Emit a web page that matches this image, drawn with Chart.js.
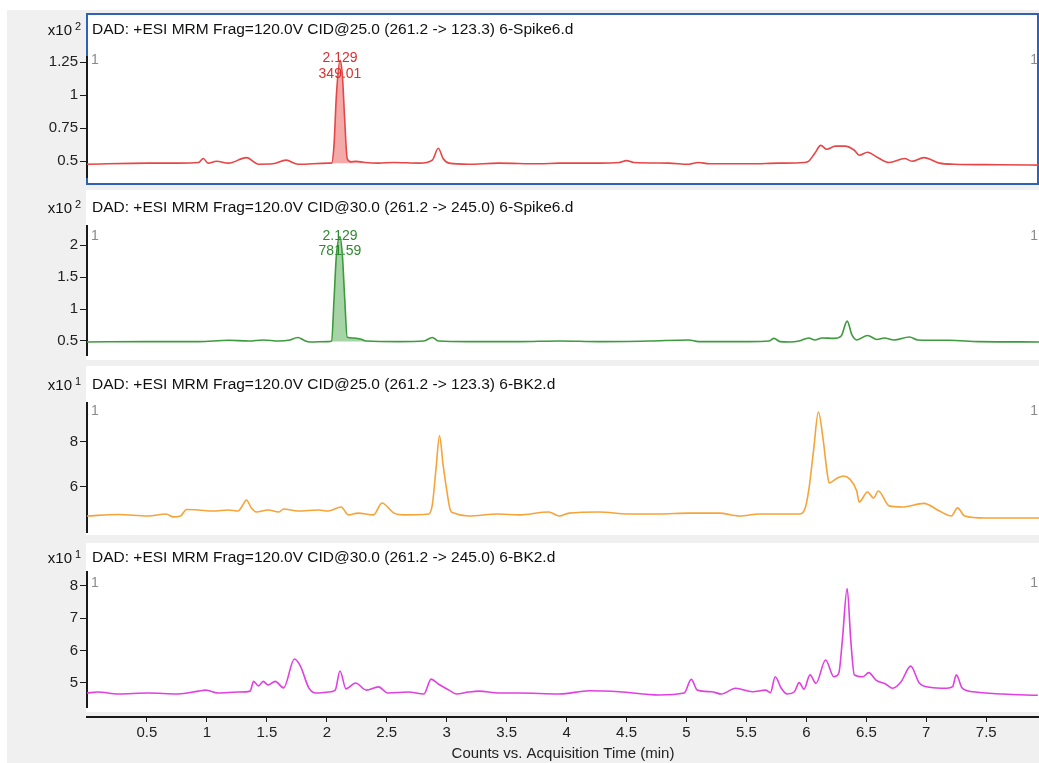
<!DOCTYPE html>
<html>
<head>
<meta charset="utf-8">
<title>MRM chromatograms</title>
<script src="https://cdn.jsdelivr.net/npm/chart.js@4.4.1/dist/chart.umd.min.js"></script>
<style>
  body { margin: 0; background: #fff; }
  #wrap { position: relative; width: 1039px; height: 763px; overflow: hidden; }
  #bg { position: absolute; left: 7px; top: 10px; right: 0; bottom: 0; background: #f0f0f0; }
  canvas { position: absolute; left: 0; }
</style>
</head>
<body>
<div id="wrap">
  <div id="bg"></div>
  <canvas id="p1" width="1039" height="185"></canvas>
  <canvas id="p2" width="1039" height="180"></canvas>
  <canvas id="p3" width="1039" height="178"></canvas>
  <canvas id="p4" width="1039" height="175"></canvas>
  <canvas id="axis" width="1039" height="50"></canvas>
</div>
<script>
// acquisition time (min) and counts for each trace
const redTime = [0, 0.51, 0.76, 0.93, 0.97, 1.01, 1.08, 1.18, 1.33, 1.43, 1.55, 1.66, 1.76, 2.01, 2.04, 2.06, 2.08, 2.11, 2.13, 2.15, 2.17, 2.20, 2.24, 2.28, 2.32, 2.43, 2.56, 2.77, 2.88, 2.93, 2.97, 3.02, 3.18, 3.43, 3.77, 3.94, 4.27, 4.44, 4.50, 4.56, 4.85, 5.02, 5.10, 5.19, 5.52, 5.77, 5.98, 6.02, 6.07, 6.12, 6.17, 6.24, 6.32, 6.40, 6.44, 6.51, 6.59, 6.69, 6.82, 6.88, 6.98, 7.11, 7.23, 7.61, 7.94];
const redCounts = [0.477, 0.485, 0.485, 0.49, 0.52, 0.485, 0.50, 0.485, 0.527, 0.477, 0.48, 0.508, 0.477, 0.485, 0.485, 0.62, 1.0, 1.265, 1.15, 0.8, 0.52, 0.495, 0.50, 0.495, 0.49, 0.485, 0.49, 0.485, 0.508, 0.598, 0.52, 0.485, 0.477, 0.485, 0.48, 0.485, 0.485, 0.49, 0.504, 0.49, 0.485, 0.477, 0.49, 0.48, 0.48, 0.485, 0.49, 0.50, 0.56, 0.62, 0.59, 0.614, 0.614, 0.583, 0.545, 0.568, 0.53, 0.49, 0.52, 0.50, 0.527, 0.485, 0.477, 0.473, 0.47];

const greenTime = [0, 0.51, 0.93, 1.18, 1.35, 1.47, 1.60, 1.68, 1.76, 1.81, 1.86, 2.01, 2.04, 2.06, 2.08, 2.11, 2.13, 2.15, 2.17, 2.22, 2.28, 2.33, 2.60, 2.81, 2.88, 2.93, 3.18, 3.60, 3.94, 4.27, 4.69, 5.02, 5.10, 5.52, 5.69, 5.73, 5.78, 5.86, 5.94, 6.02, 6.07, 6.13, 6.23, 6.29, 6.34, 6.38, 6.42, 6.51, 6.59, 6.65, 6.73, 6.86, 6.93, 7.19, 7.44, 7.94];
const greenCounts = [0.484, 0.49, 0.49, 0.51, 0.50, 0.516, 0.50, 0.51, 0.555, 0.51, 0.484, 0.49, 0.50, 1.14, 1.84, 2.13, 1.84, 1.14, 0.56, 0.547, 0.53, 0.50, 0.49, 0.50, 0.555, 0.50, 0.49, 0.49, 0.50, 0.49, 0.50, 0.516, 0.49, 0.49, 0.50, 0.54, 0.49, 0.484, 0.50, 0.547, 0.516, 0.547, 0.54, 0.578, 0.81, 0.594, 0.516, 0.586, 0.523, 0.547, 0.516, 0.563, 0.516, 0.51, 0.49, 0.484];

const orangeTime = [0, 0.26, 0.51, 0.66, 0.72, 0.78, 0.83, 0.93, 1.05, 1.18, 1.26, 1.29, 1.33, 1.37, 1.41, 1.51, 1.60, 1.64, 1.76, 1.93, 2.01, 2.12, 2.18, 2.26, 2.39, 2.46, 2.56, 2.64, 2.85, 2.88, 2.91, 2.94, 2.97, 3.00, 3.03, 3.06, 3.18, 3.43, 3.60, 3.85, 3.94, 4.02, 4.27, 4.52, 4.77, 5.02, 5.27, 5.44, 5.61, 5.94, 5.99, 6.02, 6.06, 6.10, 6.14, 6.17, 6.19, 6.26, 6.31, 6.36, 6.42, 6.44, 6.51, 6.56, 6.60, 6.69, 6.80, 6.98, 7.11, 7.21, 7.26, 7.32, 7.49, 7.94];
const orangeCounts = [4.71, 4.78, 4.71, 4.80, 4.67, 4.71, 5.00, 4.98, 4.93, 4.98, 4.93, 5.11, 5.42, 5.07, 4.89, 4.98, 4.89, 5.02, 4.93, 4.98, 4.93, 5.11, 4.76, 4.84, 4.76, 5.29, 4.84, 4.76, 4.80, 5.20, 6.76, 8.27, 6.98, 5.87, 4.98, 4.84, 4.71, 4.80, 4.76, 4.89, 4.71, 4.84, 4.89, 4.80, 4.80, 4.84, 4.84, 4.71, 4.80, 4.80, 5.07, 5.87, 7.64, 9.33, 8.09, 6.76, 6.18, 6.40, 6.49, 6.36, 5.82, 5.33, 5.78, 5.51, 5.82, 5.16, 5.11, 5.27, 4.93, 4.71, 5.07, 4.71, 4.62, 4.62];

const magentaTime = [0, 0.09, 0.26, 0.51, 0.76, 0.93, 0.99, 1.09, 1.26, 1.36, 1.39, 1.43, 1.47, 1.51, 1.57, 1.64, 1.73, 1.78, 1.85, 1.91, 2.01, 2.07, 2.11, 2.16, 2.24, 2.33, 2.43, 2.51, 2.68, 2.81, 2.87, 2.93, 3.02, 3.08, 3.18, 3.27, 3.43, 3.60, 3.94, 4.19, 4.44, 4.77, 4.98, 5.04, 5.09, 5.21, 5.29, 5.41, 5.55, 5.66, 5.70, 5.74, 5.79, 5.84, 5.90, 5.94, 5.98, 6.03, 6.08, 6.16, 6.23, 6.27, 6.30, 6.34, 6.37, 6.40, 6.47, 6.52, 6.58, 6.66, 6.72, 6.79, 6.87, 6.94, 7.03, 7.17, 7.22, 7.25, 7.30, 7.39, 7.64, 7.93];
const magentaCounts = [4.69, 4.72, 4.66, 4.69, 4.66, 4.75, 4.78, 4.69, 4.72, 4.75, 5.05, 4.91, 5.05, 4.94, 5.05, 4.85, 5.74, 5.52, 4.85, 4.69, 4.72, 4.78, 5.37, 4.82, 5.00, 4.78, 4.88, 4.69, 4.72, 4.66, 5.12, 4.97, 4.78, 4.66, 4.72, 4.75, 4.69, 4.69, 4.66, 4.76, 4.73, 4.63, 4.69, 5.11, 4.78, 4.73, 4.66, 4.84, 4.73, 4.78, 4.70, 5.19, 4.84, 4.66, 4.73, 5.01, 4.81, 5.25, 4.99, 5.71, 5.19, 5.30, 6.32, 7.91, 6.32, 5.25, 5.19, 5.32, 5.09, 4.97, 4.84, 5.04, 5.52, 5.01, 4.87, 4.84, 4.89, 5.25, 4.84, 4.73, 4.66, 4.62];

const traceTitles = [
  "DAD: +ESI MRM Frag=120.0V CID@25.0 (261.2 -> 123.3) 6-Spike6.d",
  "DAD: +ESI MRM Frag=120.0V CID@30.0 (261.2 -> 245.0) 6-Spike6.d",
  "DAD: +ESI MRM Frag=120.0V CID@25.0 (261.2 -> 123.3) 6-BK2.d",
  "DAD: +ESI MRM Frag=120.0V CID@30.0 (261.2 -> 245.0) 6-BK2.d"
];
const exponents = ["2", "2", "1", "1"];
const redTicks = [0.5, 0.75, 1, 1.25];
const greenTicks = [0.5, 1, 1.5, 2];
const orangeTicks = [6, 8];
const magentaTicks = [5, 6, 7, 8];
const timeTicks = [0.5, 1, 1.5, 2, 2.5, 3, 3.5, 4, 4.5, 5, 5.5, 6, 6.5, 7, 7.5];
const redPeak = { time: 2.11, start: 2.04, end: 2.32, base: 0.485, labels: ["2.129", "349.01"] };
const greenPeak = { time: 2.11, start: 2.04, end: 2.33, base: 0.49, labels: ["2.129", "781.59"] };

const TIME_MAX = 7.94;
const FONT = '"Liberation Sans", Arial, sans-serif';
const INK = "#1a1a1a";

function zip(xs, ys) {
  return xs.map((x, i) => ({ x: x, y: ys[i] }));
}

function makePanel(cfg) {
  const canvas = document.getElementById(cfg.id);
  canvas.style.top = cfg.top + "px";
  const h = canvas.height;

  const deco = {
    id: "deco",
    beforeDraw(chart) {
      const ctx = chart.ctx;
      ctx.save();
      ctx.fillStyle = "#fff";
      ctx.fillRect(86, cfg.white[0] - cfg.top, 1039 - 86, cfg.white[1] - cfg.white[0]);
      if (cfg.selected) {
        ctx.strokeStyle = "#2f62b4";
        ctx.lineWidth = 2;
        ctx.strokeRect(87, cfg.white[0] - cfg.top + 1, 1039 - 88, cfg.white[1] - cfg.white[0] - 2);
      }
      ctx.restore();
    },
    afterDraw(chart) {
      const ctx = chart.ctx;
      const ty = cfg.titleY - cfg.top;
      ctx.save();
      ctx.textBaseline = "middle";
      ctx.fillStyle = "#111";
      ctx.font = "15.5px " + FONT;
      ctx.textAlign = "left";
      ctx.fillText(cfg.title, 92, ty);
      ctx.font = "15px " + FONT;
      ctx.textAlign = "right";
      ctx.fillText("x10", 72, ty + 1);
      ctx.font = "11px " + FONT;
      ctx.textAlign = "left";
      ctx.fillText(cfg.exp, 75, ty - 3);

      ctx.fillStyle = "#8a8a8a";
      ctx.font = "14px " + FONT;
      ctx.fillText("1", 91, cfg.oneY - cfg.top);
      ctx.textAlign = "right";
      ctx.fillText("1", 1038, cfg.oneY - cfg.top);

      if (cfg.peak) {
        const px = chart.scales.x.getPixelForValue(cfg.peak.time);
        ctx.fillStyle = cfg.labelColor;
        ctx.textAlign = "center";
        ctx.font = "14px " + FONT;
        cfg.peak.labels.forEach((t, i) => {
          ctx.fillText(t, px, cfg.peakY[i] - cfg.top);
        });
      }
      ctx.restore();
    }
  };

  const points = zip(cfg.time, cfg.counts);
  const datasets = [{
    data: points,
    borderColor: cfg.color,
    borderWidth: 1.6,
    pointRadius: 0,
    cubicInterpolationMode: "monotone",
    fill: false,
    order: 0
  }];
  if (cfg.peak) {
    datasets.push({
      data: points.filter(p => p.x >= cfg.peak.start && p.x <= cfg.peak.end),
      borderWidth: 0,
      borderColor: "rgba(0,0,0,0)",
      backgroundColor: cfg.fillColor,
      pointRadius: 0,
      cubicInterpolationMode: "monotone",
      fill: { value: cfg.peak.base },
      order: 1
    });
  }

  return new Chart(canvas, {
    type: "line",
    data: { datasets: datasets },
    options: {
      responsive: false,
      animation: false,
      events: [],
      layout: { padding: { top: cfg.axis[0] - cfg.top, bottom: cfg.top + h - cfg.axis[1], left: 0, right: 0 } },
      scales: {
        x: { type: "linear", min: 0, max: TIME_MAX, display: false },
        y: {
          min: cfg.min,
          max: cfg.max,
          afterBuildTicks: s => { s.ticks = cfg.ticks.map(v => ({ value: v })); },
          afterFit: s => { s.width = 87; s.paddingTop = 0; s.paddingBottom = 0; },
          border: { display: true, color: INK, width: 2 },
          grid: { drawOnChartArea: false, drawTicks: true, tickLength: 7, color: INK },
          ticks: { color: "#222", padding: 2, font: { family: FONT, size: 15 }, callback: v => String(v) }
        }
      },
      plugins: { legend: { display: false }, tooltip: { enabled: false } }
    },
    plugins: [deco]
  });
}

makePanel({
  id: "p1", top: 10, white: [13, 185], axis: [57, 177], titleY: 30, oneY: 60,
  time: redTime, counts: redCounts, color: "#e64646", fillColor: "rgba(236, 100, 100, 0.55)",
  labelColor: "#d93030", peak: redPeak, peakY: [58, 74],
  title: traceTitles[0], exp: exponents[0], ticks: redTicks, min: 0.38, max: 1.29, selected: true
});
makePanel({
  id: "p2", top: 188, white: [190, 360], axis: [226, 355], titleY: 208, oneY: 236,
  time: greenTime, counts: greenCounts, color: "#3d9a3d", fillColor: "rgba(80, 170, 80, 0.5)",
  labelColor: "#2f8a2f", peak: greenPeak, peakY: [236, 251],
  title: traceTitles[1], exp: exponents[1], ticks: greenTicks, min: 0.28, max: 2.30
});
makePanel({
  id: "p3", top: 362, white: [366, 535], axis: [403, 532], titleY: 385, oneY: 411,
  time: orangeTime, counts: orangeCounts, color: "#f5a43a",
  title: traceTitles[2], exp: exponents[2], ticks: orangeTicks, min: 4.0, max: 9.73
});
makePanel({
  id: "p4", top: 540, white: [543, 712], axis: [572, 707], titleY: 558, oneY: 583,
  time: magentaTime, counts: magentaCounts, color: "#e040e0",
  title: traceTitles[3], exp: exponents[3], ticks: magentaTicks, min: 4.26, max: 8.42
});

// shared time axis under the last trace
const axisCanvas = document.getElementById("axis");
axisCanvas.style.top = "713px";
new Chart(axisCanvas, {
  type: "line",
  data: { datasets: [] },
  options: {
    responsive: false,
    animation: false,
    events: [],
    layout: { padding: { left: 87, right: 0, top: 0, bottom: 0 } },
    scales: {
      x: {
        type: "linear",
        position: "bottom",
        min: 0,
        max: TIME_MAX,
        afterBuildTicks: s => { s.ticks = timeTicks.map(v => ({ value: v })); },
        afterFit: s => { s.height = 46; s.paddingLeft = 0; s.paddingRight = 0; },
        border: { display: true, color: INK, width: 2 },
        grid: { drawOnChartArea: false, drawTicks: true, tickLength: 5, color: INK },
        ticks: { color: "#222", padding: 2, maxRotation: 0, autoSkip: false, font: { family: FONT, size: 15 }, callback: v => String(v) },
        title: { display: true, text: "Counts vs. Acquisition Time (min)", color: "#222", font: { family: FONT, size: 15 }, padding: { top: 1, bottom: 0 } }
      },
      y: { display: false, min: 0, max: 1 }
    },
    plugins: { legend: { display: false }, tooltip: { enabled: false } }
  }
});
</script>
</body>
</html>
